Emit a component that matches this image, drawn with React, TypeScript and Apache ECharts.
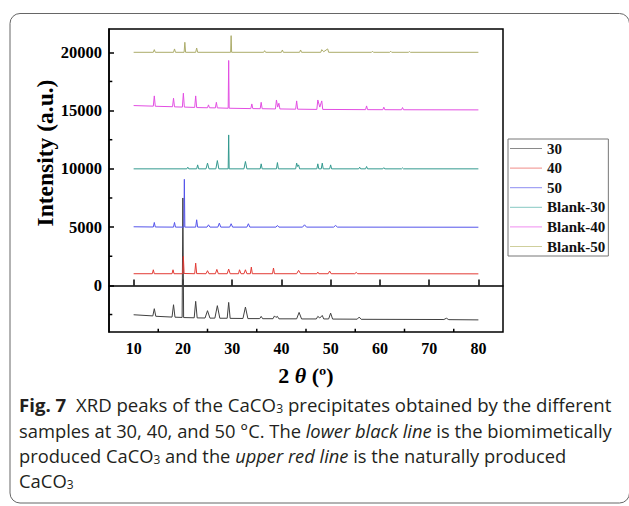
import React, { useEffect, useRef } from 'react';
import * as echarts from 'echarts';

const seriesNames = ['30', '40', '50', 'Blank-30', 'Blank-40', 'Blank-50'];
const seriesColors = ['#404040', '#e23a34', '#5454ea', '#33998f', '#e24ee2', '#acac6a'];
const legendColors = ['#8a8a8a', '#f08c88', '#8c8cf2', '#86c8c2', '#f08cf0', '#cfcf9c'];

const s30: number[][] = [
  [10, -2520], [13.9, -2620], [14.2, -2000], [14.5, -2650], [17.8, -2720], [18.1, -1660], [18.4, -2730],
  [19.85, -2750], [20.0, 7500], [20.15, -2760], [22.3, -2780], [22.6, -1370], [22.9, -2790], [24.5, -2800],
  [25.0, -2170], [25.5, -2810], [26.5, -2810], [27.0, -1740], [27.5, -2820], [29.0, -2820], [29.3, -1460],
  [29.6, -2830], [32.2, -2840], [32.7, -1860], [33.2, -2850], [35.6, -2850], [35.9, -2660], [36.2, -2860],
  [38.3, -2860], [38.6, -2620], [38.9, -2750], [39.2, -2660], [39.5, -2870], [43.1, -2870], [43.6, -2320],
  [44.1, -2880], [47.1, -2880], [47.4, -2660], [47.8, -2800], [48.3, -2580], [48.6, -2880], [49.6, -2880],
  [50.0, -2380], [50.4, -2890], [55.4, -2900], [55.8, -2720], [56.2, -2910], [73.0, -2930], [73.5, -2820],
  [74.0, -2940], [80, -2960],
];
const s40: number[][] = [
  [10, 1000], [13.8, 1000], [14.0, 1340], [14.2, 1000], [17.8, 1000], [18.0, 1340], [18.2, 1000], [19.95, 1000],
  [20.1, 2490], [20.25, 1020], [22.4, 1000], [22.6, 1910], [22.8, 1010], [24.7, 1000], [25.0, 1260], [25.3, 1000],
  [26.6, 1000], [26.9, 1370], [27.2, 1000], [29.0, 1000], [29.3, 1400], [29.6, 1000], [31.3, 1000], [31.5, 1340],
  [31.8, 1000], [32.4, 1000], [32.7, 1340], [33.0, 1000], [33.7, 1000], [33.9, 1570], [34.1, 1000], [38.2, 1000],
  [38.4, 1490], [38.6, 1000], [43.1, 1000], [43.5, 1290], [43.9, 1000], [47.2, 1000], [47.4, 1140], [47.6, 1000],
  [49.5, 1000], [49.8, 1230], [50.1, 1000], [54.9, 1000], [55.2, 1110], [55.5, 1000], [80, 990],
];
const s50: number[][] = [
  [10, 5030], [14.0, 5010], [14.2, 5400], [14.4, 5010], [18.1, 5000], [18.3, 5400], [18.5, 5000], [20.2, 5000],
  [20.3, 9100], [20.4, 5000], [22.6, 5000], [22.8, 5630], [23.0, 5000], [24.9, 5000], [25.2, 5200], [25.5, 5000],
  [27.1, 5000], [27.4, 5340], [27.7, 5000], [29.5, 5000], [29.8, 5290], [30.1, 5000], [33.0, 5000], [33.3, 5290],
  [33.6, 5000], [38.9, 5000], [39.2, 5140], [39.5, 5000], [44.3, 5000], [44.7, 5200], [45.1, 5000], [50.6, 5000],
  [51.0, 5140], [51.4, 5000], [80, 4990],
];
const sBlank30: number[][] = [
  [10, 10000], [20.8, 10000], [21.0, 10140], [21.2, 10000], [22.8, 10000], [23.0, 10340], [23.2, 10000],
  [24.7, 10000], [25.0, 10490], [25.3, 10000], [26.7, 10000], [27.0, 10710], [27.3, 10000], [29.2, 10000],
  [29.3, 12910], [29.4, 10000], [32.4, 10000], [32.7, 10630], [33.0, 10000], [35.7, 10000], [35.9, 10430],
  [36.1, 10000], [39.0, 10000], [39.2, 10540], [39.4, 10000], [42.9, 10000], [43.1, 10490], [43.3, 10200],
  [43.5, 10340], [43.7, 10000], [47.2, 10000], [47.4, 10430], [47.6, 10000], [48.1, 10000], [48.3, 10490],
  [48.5, 10000], [49.8, 10000], [50.0, 10340], [50.2, 10000], [55.7, 10000], [55.9, 10140], [56.1, 10000],
  [57.1, 10000], [57.3, 10200], [57.5, 10000], [60.6, 10000], [60.8, 10100], [61.0, 10000], [64.4, 10000],
  [64.6, 10080], [64.8, 10000], [80, 10000],
];
const sBlank40: number[][] = [
  [10, 15430], [14.0, 15380], [14.2, 16260], [14.4, 15370], [17.9, 15330], [18.1, 16060], [18.3, 15320],
  [19.9, 15300], [20.1, 16490], [20.3, 15300], [22.4, 15270], [22.6, 16260], [22.8, 15260], [25.0, 15240],
  [25.2, 15490], [25.4, 15240], [26.6, 15230], [26.8, 15710], [27.0, 15230], [29.2, 15200], [29.3, 19300],
  [29.4, 15200], [33.8, 15170], [34.0, 15570], [34.2, 15170], [35.7, 15160], [35.9, 15710], [36.1, 15160],
  [38.8, 15140], [39.0, 15910], [39.25, 15300], [39.5, 15630], [39.7, 15140], [42.9, 15120], [43.1, 15830],
  [43.3, 15120], [47.2, 15100], [47.4, 15910], [47.8, 15300], [48.2, 15830], [48.4, 15100], [57.1, 15080],
  [57.3, 15400], [57.5, 15080], [60.6, 15075], [60.8, 15290], [61.0, 15075], [64.4, 15070], [64.6, 15260],
  [64.8, 15070], [80, 15060],
];
const sBlank50: number[][] = [
  [10, 20000], [14.0, 20000], [14.2, 20230], [14.4, 20000], [18.1, 20000], [18.3, 20290], [18.5, 20000],
  [20.25, 20000], [20.4, 20860], [20.55, 20000], [22.6, 20000], [22.8, 20370], [23.0, 20000], [29.7, 20000],
  [29.8, 21430], [29.9, 20000], [36.4, 20000], [36.6, 20140], [36.8, 20000], [40.0, 20000], [40.2, 20200],
  [40.4, 20000], [43.7, 20000], [43.9, 20200], [44.1, 20000], [48.0, 20000], [48.2, 20230], [48.6, 20050],
  [49.4, 20290], [49.6, 20000], [58.3, 20000], [58.5, 20090], [58.7, 20000], [62.0, 20000], [62.2, 20090],
  [62.4, 20000], [65.8, 20000], [66.0, 20060], [66.2, 20000], [80, 20000],
];
const seriesData = [s30, s40, s50, sBlank30, sBlank40, sBlank50];

const xMin = 5;
const xMax = 85;
const yMin = -4000;
const yMax = 22000;
const xMinorTicks = [15, 25, 35, 45, 55, 65, 75];
const yMinorTicks = [-2500, 2500, 7500, 12500, 17500];

const xTitle = '{b|2 }{i|θ}{b| (º)}';
const yTitle = 'Intensity (a.u.)';
// caption segments: [style, text]
const captionLines: [string, string][][] = [
  [['b', 'Fig. 7'], ['n', '  XRD peaks of the CaCO'], ['s', '3'], ['n', ' precipitates obtained by the different']],
  [['n', 'samples at 30, 40, and 50 °C. The '], ['i', 'lower black line'], ['n', ' is the biomimetically']],
  [['n', 'produced CaCO'], ['s', '3'], ['n', ' and the '], ['i', 'upper red line'], ['n', ' is the naturally produced']],
  [['n', 'CaCO'], ['s', '3']],
];
// widths the caption lines take in the reference (px)
const captionTargetWidths = [593, 593, 548];

const SERIF = 'Liberation Serif, Times New Roman, serif';
const SANS_NAME = 'Open Sans';
const SANS = '"Open Sans", "Noto Sans", sans-serif';

function measureLines(base: number): number[] {
  const canvas = document.createElement('canvas');
  const ctx = canvas.getContext('2d');
  if (!ctx) return captionLines.map(() => 0);
  return captionLines.map((segs) => {
    let w = 0;
    for (const [st, t] of segs) {
      const size = st === 's' ? base * 0.65 : base;
      const weight = st === 'b' ? 'bold' : 'normal';
      const style = st === 'i' ? 'italic' : 'normal';
      ctx.font = `${style} ${weight} ${size}px "${SANS_NAME}"`;
      w += ctx.measureText(t).width;
    }
    return w;
  });
}

export default function App() {
  const ref = useRef<HTMLDivElement>(null);
  useEffect(() => {
    document.body.style.margin = '0';
    if (!ref.current) return;
    const chart = echarts.init(ref.current, null, { renderer: 'svg' });
    const base = 100;
    const widths = measureLines(base);
    let capFont = 17.5;
    let scales = [1, 1, 1, 1];
    if (widths[0] > 0) {
      const ratios = captionTargetWidths.map((t, i) => t / widths[i]);
      const mean = ratios.reduce((a, b) => a + b, 0) / ratios.length;
      capFont = Math.min(19.5, Math.max(14, base * mean));
      scales = captionLines.map((_, i) =>
        i < captionTargetWidths.length ? captionTargetWidths[i] / (widths[i] * capFont / base) : 1,
      );
      const avg = (scales[0] + scales[1] + scales[2]) / 3;
      scales[3] = avg;
    }
    const capRich = {
      n: { fontFamily: SANS, fontSize: capFont, fill: '#231f20', lineHeight: 20 },
      b: { fontFamily: SANS, fontSize: capFont, fontWeight: 'bold', fill: '#231f20', lineHeight: 20 },
      i: { fontFamily: SANS, fontSize: capFont, fontStyle: 'italic', fill: '#231f20', lineHeight: 20 },
      s: { fontFamily: SANS, fontSize: capFont * 0.65, fill: '#231f20', lineHeight: 11, verticalAlign: 'bottom' },
    };
    const captionY = [405, 430, 455, 480];
    chart.setOption({
      animation: false,
      grid: { left: 109, top: 29, width: 394, height: 303, show: true, borderColor: '#000', borderWidth: 1.5, backgroundColor: 'transparent' },
      legend: {
        data: seriesNames.map((name, i) => ({ name, itemStyle: { color: legendColors[i] } })),
        orient: 'vertical',
        left: 508,
        top: 139,
        padding: [2, 3, 2, 2],
        itemWidth: 32,
        itemHeight: 1,
        itemGap: 4.6,
        icon: 'rect',
        borderColor: '#777',
        borderWidth: 1,
        textStyle: { fontFamily: SERIF, fontWeight: 'bold', fontSize: 15, color: '#111' },
      },
      xAxis: {
        type: 'value', min: xMin, max: xMax, splitNumber: 8,
        axisLine: { show: true, lineStyle: { color: '#000', width: 1.5 } },
        axisTick: { show: true, inside: true, length: 6, lineStyle: { color: '#000', width: 1.5 } },
        axisLabel: {
          fontFamily: SERIF, fontWeight: 'bold', fontSize: 16, color: '#000', margin: 8,
          showMinLabel: false, showMaxLabel: false,
          formatter: (v: number) => (v % 10 === 0 && v >= 10 && v <= 80 ? String(v) : ''),
        },
        splitLine: { show: false },
      },
      yAxis: {
        type: 'value', min: yMin, max: yMax, splitNumber: 5,
        axisLine: { show: true, lineStyle: { color: '#000', width: 1.5 } },
        axisTick: { show: true, inside: true, length: 5, lineStyle: { color: '#000', width: 1.5 } },
        axisLabel: {
          fontFamily: SERIF, fontWeight: 'bold', fontSize: 16.5, color: '#000', margin: 7,
          showMinLabel: false, showMaxLabel: false,
          formatter: (v: number) => (v % 5000 === 0 ? String(v) : ''),
        },
        splitLine: { show: false },
      },
      series: [
        ...seriesNames.map((name, i) => ({
          name,
          type: 'line',
          data: seriesData[i],
          symbol: 'none',
          color: seriesColors[i],
          lineStyle: { width: 1, color: seriesColors[i] },
          silent: true,
          z: 2 + (i === 2 ? 1 : 0),
        })),
        {
          type: 'custom',
          name: 'xminor',
          data: xMinorTicks.map((v) => [v, yMin]),
          silent: true,
          clip: false,
          z: 10,
          renderItem: (_p: any, api: any) => {
            const p = api.coord([api.value(0), api.value(1)]);
            return { type: 'line', shape: { x1: p[0], y1: p[1], x2: p[0], y2: p[1] - 3.3 }, style: { stroke: '#000', lineWidth: 1.5 } };
          },
        },
        {
          type: 'custom',
          name: 'yminor',
          data: yMinorTicks.map((v) => [xMin, v]),
          silent: true,
          clip: false,
          z: 10,
          renderItem: (_p: any, api: any) => {
            const p = api.coord([api.value(0), api.value(1)]);
            return { type: 'line', shape: { x1: p[0], y1: p[1], x2: p[0] + 3.3, y2: p[1] }, style: { stroke: '#000', lineWidth: 1.5 } };
          },
        },
      ],
      graphic: [
        { type: 'rect', shape: { x: 10, y: 13.5, width: 619.5, height: 489.5, r: 10 }, style: { fill: 'none', stroke: '#666', lineWidth: 1 }, silent: true },
        {
          type: 'text', x: 45, y: 153, rotation: Math.PI / 2,
          style: { text: yTitle, fontFamily: SERIF, fontWeight: 'bold', fontSize: 23.5, fill: '#000', align: 'center', verticalAlign: 'middle' },
        },
        {
          type: 'text', x: 306, y: 375,
          style: {
            text: xTitle, align: 'center', verticalAlign: 'middle',
            rich: {
              b: { fontFamily: SERIF, fontWeight: 'bold', fontSize: 22, fill: '#000' },
              i: { fontFamily: SERIF, fontWeight: 'bold', fontStyle: 'italic', fontSize: 22, fill: '#000' },
            },
          },
        },
        ...captionLines.map((segs, i) => ({
          type: 'text', x: 19, y: captionY[i], scaleX: scales[i],
          style: {
            text: segs.map(([st, t]) => `{${st}|${t}}`).join(''),
            rich: capRich, align: 'left', verticalAlign: 'middle',
          },
        })),
      ],
    });
    return () => chart.dispose();
  }, []);
  return <div ref={ref} style={{ width: 629, height: 506 }} />;
}
